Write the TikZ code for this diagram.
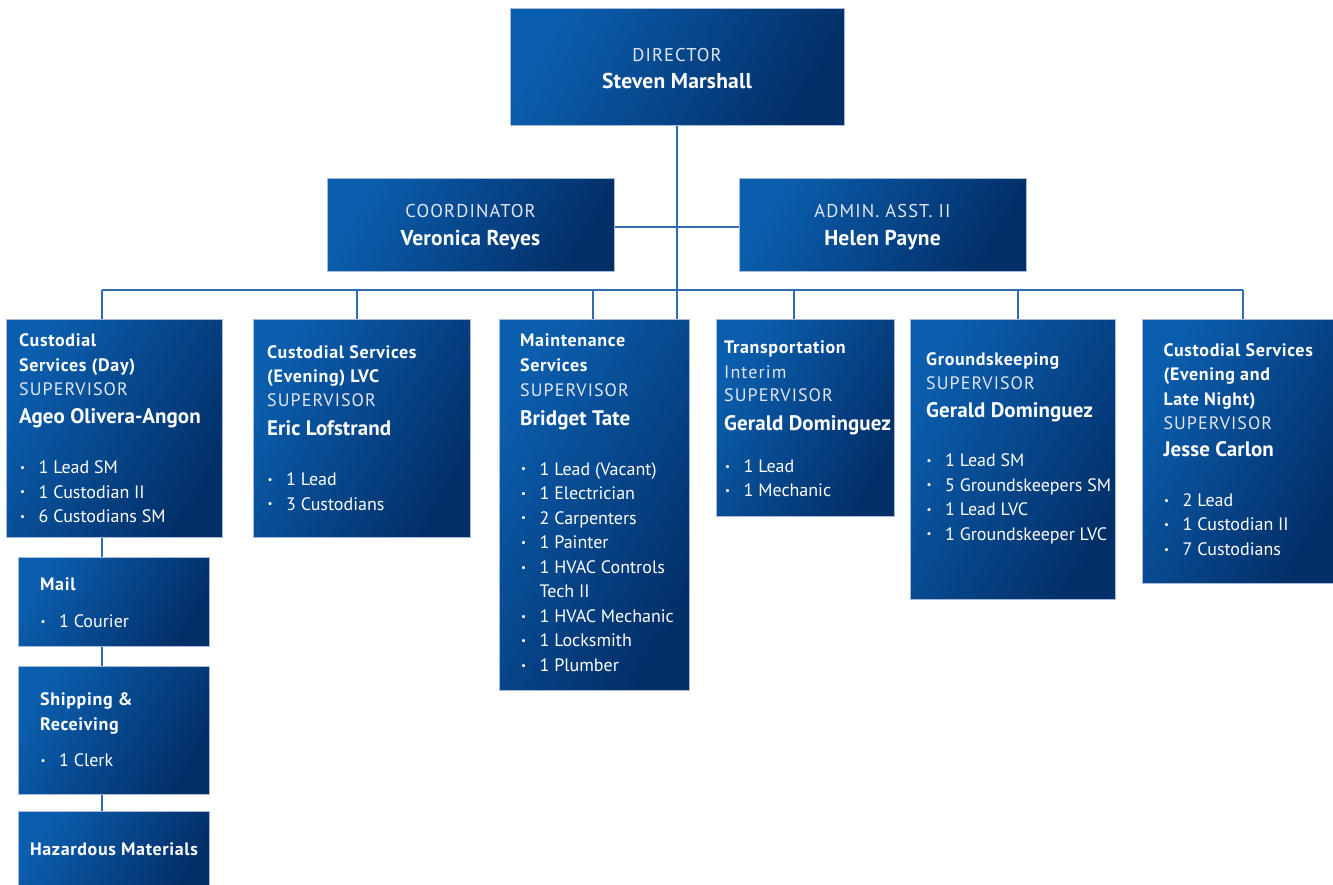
\documentclass[tikz,border=0pt]{standalone}
\usepackage{fontspec}
\setmainfont{PT Sans}
\usepackage{tikz}
\definecolor{blueL}{HTML}{0B5EAE}
\definecolor{blueD}{HTML}{022F68}
\definecolor{boxedge}{HTML}{A7BBD8}
\definecolor{linec}{HTML}{2F6CB4}
\definecolor{rolec}{HTML}{E3E8F0}
\newcommand\bul[1]{\makebox[18.5pt][l]{\raisebox{0.12em}{\fontsize{11}{11}\selectfont\textbullet}}#1}
\tikzset{
  box/.style={draw=boxedge, line width=0.6pt, top color=blueL, bottom color=blueD, shading angle=60, anchor=north west, inner sep=0pt},
  conn/.style={draw=linec, line width=1.5pt},
  tt/.style={text=white, font=\bfseries\fontsize{18}{21}\selectfont\addfontfeature{LetterSpace=3.6}, anchor=base west, inner sep=0pt},
  role/.style={text=rolec, font=\fontsize{18}{21}\selectfont\addfontfeature{LetterSpace=6}, anchor=base west, inner sep=0pt},
  nm/.style={text=white, font=\bfseries\fontsize{21}{24}\selectfont\addfontfeature{LetterSpace=0.4}, anchor=base west, inner sep=0pt},
  itm/.style={text=white, font=\fontsize{18}{21}\selectfont, anchor=base west, inner sep=0pt},
  hrole/.style={text=rolec, font=\fontsize{18.5}{22}\selectfont\addfontfeature{LetterSpace=6}, anchor=base, inner sep=0pt},
  hnm/.style={text=white, font=\bfseries\fontsize{21.5}{24}\selectfont\addfontfeature{LetterSpace=1}, anchor=base, inner sep=0pt},
}
\begin{document}
\begin{tikzpicture}[x=1pt,y=-1pt]
\useasboundingbox (0,0) rectangle (1333,884);
% ---------- boxes ----------
\node[box, minimum width=334pt, minimum height=117pt] (dir) at (510,8) {};
\node[box, minimum width=287pt, minimum height=93pt] (coord) at (327,178) {};
\node[box, minimum width=287pt, minimum height=93pt] (admin) at (739,178) {};
\node[box, minimum width=216pt, minimum height=218pt] (cd) at (6,319) {};
\node[box, minimum width=217pt, minimum height=218pt] (ce) at (253,319) {};
\node[box, minimum width=190pt, minimum height=371pt] (ms) at (499,319) {};
\node[box, minimum width=178pt, minimum height=197pt] (tr) at (716,319) {};
\node[box, minimum width=205pt, minimum height=280pt] (gk) at (910,319) {};
\node[box, minimum width=192pt, minimum height=264pt] (cl) at (1142,319) {};
\node[box, minimum width=191pt, minimum height=89pt] (mail) at (18,557) {};
\node[box, minimum width=191pt, minimum height=128pt] (ship) at (18,666) {};
\node[box, minimum width=191pt, minimum height=80pt] (haz) at (18,811) {};
% ---------- connectors ----------
\coordinate (b1) at (102,290);
\coordinate (b2) at (357,290);
\coordinate (b3) at (593,290);
\coordinate (b5) at (794,290);
\coordinate (b6) at (1018,290);
\coordinate (b7) at (1243,290);
\coordinate (cj) at (677,227);
\draw[conn] (dir.south -| cj) -- (cj |- ms.north);
\draw[conn] (coord.east |- cj) -- (admin.west |- cj);
\draw[conn] (b1) -- (b7);
\draw[conn] (b1) -- (b1 |- cd.north);
\draw[conn] (b2) -- (b2 |- ce.north);
\draw[conn] (b3) -- (b3 |- ms.north);
\draw[conn] (b5) -- (b5 |- tr.north);
\draw[conn] (b6) -- (b6 |- gk.north);
\draw[conn] (b7) -- (b7 |- cl.north);
\draw[conn] (cd.south -| b1) -- (b1 |- mail.north);
\draw[conn] (mail.south -| b1) -- (b1 |- ship.north);
\draw[conn] (ship.south -| b1) -- (b1 |- haz.north);
% ---------- top texts ----------
\node[hrole] (dir1) at (677,61) {DIRECTOR};
\node[hnm] (dir2) at (677,88) {Steven Marshall};
\node[hrole] (co1) at (470.5,217) {COORDINATOR};
\node[hnm] (co2) at (470.5,245) {Veronica Reyes};
\node[hrole] (ad1) at (882.5,217) {ADMIN. ASST. II};
\node[hnm] (ad2) at (882.5,245) {Helen Payne};
% ---------- Custodial Day ----------
\node[tt] (cd1) at (19,346) {Custodial};
\node[tt] (cd2) at (19,371) {Services (Day)};
\node[role] (cd3) at (19,395.5) {SUPERVISOR};
\node[nm] (cd4) at (19,423.5) {Ageo Olivera-Angon};
\node[itm] (cd5) at (20,473.5) {\bul{1 Lead SM}};
\node[itm] (cd6) at (20,498) {\bul{1 Custodian II}};
\node[itm] (cd7) at (20,522.5) {\bul{6 Custodians SM}};
% ---------- Custodial Evening ----------
\node[tt] (ce1) at (267,358.3) {Custodial Services};
\node[tt] (ce2) at (267,382.7) {(Evening) LVC};
\node[role] (ce3) at (267,406.7) {SUPERVISOR};
\node[nm] (ce4) at (267,435.7) {Eric Lofstrand};
\node[itm] (ce5) at (267.5,485.7) {\bul{1 Lead}};
\node[itm] (ce6) at (267.5,510) {\bul{3 Custodians}};
% ---------- Maintenance ----------
\node[tt] (ms1) at (520,346.7) {Maintenance};
\node[tt] (ms2) at (520,371.7) {Services};
\node[role] (ms3) at (520,396.7) {SUPERVISOR};
\node[nm] (ms4) at (520,425) {Bridget Tate};
\node[itm] (ms5) at (521,475) {\bul{1 Lead (Vacant)}};
\node[itm] (ms6) at (521,499.3) {\bul{1 Electrician}};
\node[itm] (ms7) at (521,524) {\bul{2 Carpenters}};
\node[itm] (ms8) at (521,548.3) {\bul{1 Painter}};
\node[itm] (ms9) at (521,573.3) {\bul{1 HVAC Controls}};
\node[itm] (ms10) at (539.5,597.3) {Tech II};
\node[itm] (ms11) at (521,622.3) {\bul{1 HVAC Mechanic}};
\node[itm] (ms12) at (521,646.7) {\bul{1 Locksmith}};
\node[itm] (ms13) at (521,671.7) {\bul{1 Plumber}};
% ---------- Transportation ----------
\node[tt] (tr1) at (724,353.3) {Transportation};
\node[role] (tr2) at (724,378) {Interim};
\node[role] (tr3) at (724,401.7) {SUPERVISOR};
\node[nm] (tr4) at (724,430) {Gerald Dominguez};
\node[itm] (tr5) at (725,472.3) {\bul{1 Lead}};
\node[itm] (tr6) at (725,496.7) {\bul{1 Mechanic}};
% ---------- Groundskeeping ----------
\node[tt] (gk1) at (926,365) {Groundskeeping};
\node[role] (gk2) at (926,389.3) {SUPERVISOR};
\node[nm] (gk3) at (926,417.7) {Gerald Dominguez};
\node[itm] (gk4) at (926.5,466.7) {\bul{1 Lead SM}};
\node[itm] (gk5) at (926.5,491) {\bul{5 Groundskeepers SM}};
\node[itm] (gk6) at (926.5,515.7) {\bul{1 Lead LVC}};
\node[itm] (gk7) at (926.5,540) {\bul{1 Groundskeeper LVC}};
% ---------- Custodial Late ----------
\node[tt] (cl1) at (1163.3,356) {Custodial Services};
\node[tt] (cl2) at (1163.3,380.7) {(Evening and};
\node[tt] (cl3) at (1163.3,405.7) {Late Night)};
\node[role] (cl4) at (1163.3,429) {SUPERVISOR};
\node[nm] (cl5) at (1163.3,456.7) {Jesse Carlon};
\node[itm] (cl6) at (1164,506.7) {\bul{2 Lead}};
\node[itm] (cl7) at (1164,530.7) {\bul{1 Custodian II}};
\node[itm] (cl8) at (1164,555.7) {\bul{7 Custodians}};
% ---------- Mail / Shipping / Hazardous ----------
\node[tt] (ml1) at (40,590) {Mail};
\node[itm] (ml2) at (40.5,627.3) {\bul{1 Courier}};
\node[tt] (sh1) at (40,705.7) {Shipping \&};
\node[tt] (sh2) at (40,730.7) {Receiving};
\node[itm] (sh3) at (40.5,766.7) {\bul{1 Clerk}};
\node[tt, anchor=base] (hz1) at (114,855) {Hazardous Materials};
\end{tikzpicture}
\end{document}
